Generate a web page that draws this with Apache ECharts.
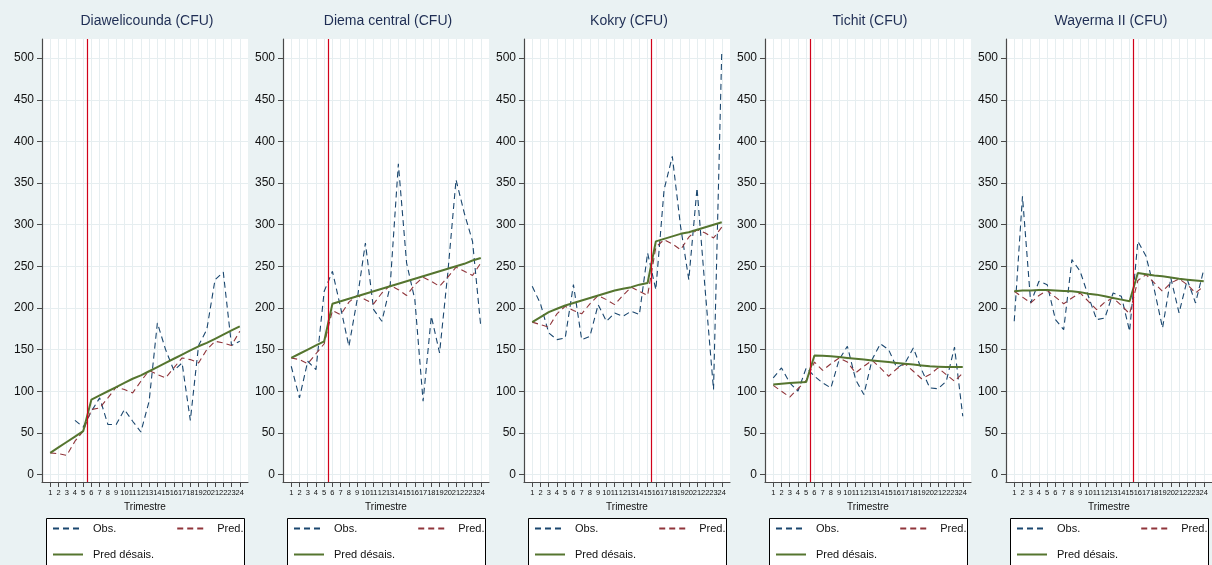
<!DOCTYPE html>
<html>
<head>
<meta charset="utf-8">
<script src="https://cdn.jsdelivr.net/npm/echarts@6/dist/echarts.min.js"></script>
<style>
html,body{margin:0;padding:0;background:#eaf2f3;}
#chart{width:1212px;height:565px;}
</style>
</head>
<body>
<div id="chart"></div>
<script>
// ---- data ----
const trimestres = [1,2,3,4,5,6,7,8,9,10,11,12,13,14,15,16,17,18,19,20,21,22,23,24];
const yTicks = [0,50,100,150,200,250,300,350,400,450,500];
const panelTitles = ['Diawelicounda (CFU)','Diema central (CFU)','Kokry (CFU)','Tichit (CFU)','Wayerma II (CFU)'];
const breakPoints = [5.5, 5.5, 15.5, 5.5, 15.5];
const legendNames = ['Obs.', 'Pred.', 'Pred désais.'];

const obsDiawelicounda = [null,null,null,65,57,76,92,60,60,78,64,51,88,182,150,125,134,65,155,174,234,243,155,160];
const predDiawelicounda = [26,25,23,40,52,78,80,92,105,102,98,112,125,120,116,128,140,138,134,150,160,158,155,172];
const desaisDiawelicounda = [26,32.5,39,45.5,52,90,95,100,105,110,115,119,124,129,134,139,144,149,154,158,163,168,173,178];

const obsDiema = [130,92,136,126,220,244,200,154,210,278,198,184,226,373,254,210,88,190,146,242,354,314,280,178];
const predDiema = [140,138,133,145,157,197,192,207,215,210,205,218,227,222,215,228,237,232,226,237,249,244,239,254];
const desaisDiema = [140,145,150,155,160,205,208,211,214,217,220,223,226,229,232,235,238,241,244,247,250,253,257,260];

const obsKokry = [226,205,170,162,164,228,162,166,204,184,194,190,196,192,266,222,342,382,298,234,344,220,102,508];
const predKokry = [183,180,177,193,202,197,193,205,215,210,204,215,225,220,215,273,282,277,270,285,294,290,284,297];
const desaisKokry = [183,189,195,199,203,206,209,212,215,218,221,223,225,228,230,280,283,286,289,291,294,297,300,303];

const obsTichit = [116,128,110,100,128,118,110,104,138,154,114,96,138,157,150,128,134,152,126,104,103,112,153,70];
const predTichit = [107,100,93,103,113,135,125,133,140,135,122,130,137,128,118,127,133,124,115,120,128,120,112,122];
const desaisTichit = [108,109,110,110.5,111,143,142.5,142,141,140,139,138,137,136,135,134,133,132,131,130,129.5,129,129,129];

const obsWayerma = [184,334,206,232,228,186,174,258,244,214,186,188,218,214,172,280,262,222,176,236,194,234,206,246];
const predWayerma = [220,213,206,215,221,213,205,212,218,208,198,207,212,203,193,233,240,230,220,230,235,228,218,226];
const desaisWayerma = [220,221,221,221.5,221.5,221,220.5,220,219,217,216,214,212,210,208,242,240.5,239,238,236.5,235,234,233,232];

const panels = [
  [obsDiawelicounda, predDiawelicounda, desaisDiawelicounda],
  [obsDiema, predDiema, desaisDiema],
  [obsKokry, predKokry, desaisKokry],
  [obsTichit, predTichit, desaisTichit],
  [obsWayerma, predWayerma, desaisWayerma]
];

// ---- layout / style ----
const FONT = '"Liberation Sans", Arial, Helvetica, sans-serif';
const gridLeft = [42, 283, 524, 765, 1006];
const gridWidth = 206;
const gridTop = 39;
const gridHeight = 443;
const colors = { obs: '#1a476f', pred: '#90353b', desais: '#55752f', brk: '#d0021b' };
const gridLineColor = '#e6eef0';
const axisColor = '#4a4a4a';

const pairs = arr => trimestres.map((t, i) => [t, arr[i]]);

const option = {
  animation: false,
  backgroundColor: '#eaf2f3',
  textStyle: { fontFamily: FONT },
  title: [], grid: [], xAxis: [], yAxis: [], series: [], legend: [], graphic: []
};

panels.forEach((p, i) => {
  const left = gridLeft[i];
  option.grid.push({ left: left, top: gridTop, width: gridWidth, height: gridHeight, backgroundColor: '#ffffff', show: true, borderWidth: 0 });
  option.title.push({
    text: panelTitles[i], left: left + gridWidth / 2 - 3, top: 9, textAlign: 'center',
    textStyle: { fontFamily: FONT, fontSize: 14, fontWeight: 'normal', color: '#1e2d53' }
  });
  option.xAxis.push({
    type: 'value', gridIndex: i, min: 0, max: 25, interval: 1,
    name: 'Trimestre', nameLocation: 'middle', nameGap: 19,
    nameTextStyle: { fontFamily: FONT, fontSize: 10, color: '#111' },
    axisLine: { show: true, onZero: false, lineStyle: { color: axisColor, width: 1.2 } },
    axisTick: { show: true, length: 5, customValues: trimestres, lineStyle: { color: axisColor } },
    axisLabel: { customValues: trimestres, fontSize: 7.5, color: '#111', margin: 7, fontFamily: FONT },
    splitLine: { show: true, lineStyle: { color: gridLineColor, width: 1 } }
  });
  option.yAxis.push({
    type: 'value', gridIndex: i, min: -9, max: 523,
    axisLine: { show: true, onZero: false, lineStyle: { color: axisColor, width: 1.2 } },
    axisTick: { show: true, length: 5, customValues: yTicks, lineStyle: { color: axisColor } },
    axisLabel: { customValues: yTicks, fontSize: 12, color: '#111', margin: 8, fontFamily: FONT },
    splitLine: { show: true, lineStyle: { color: gridLineColor, width: 1 } }
  });
  option.series.push({
    name: legendNames[0], type: 'line', xAxisIndex: i, yAxisIndex: i, data: pairs(p[0]),
    symbol: 'none', connectNulls: false,
    lineStyle: { color: colors.obs, width: 1.1, type: [6, 4] }, itemStyle: { color: colors.obs }
  });
  option.series.push({
    name: legendNames[1], type: 'line', xAxisIndex: i, yAxisIndex: i, data: pairs(p[1]),
    symbol: 'none',
    lineStyle: { color: colors.pred, width: 1.1, type: [6, 4] }, itemStyle: { color: colors.pred }
  });
  option.series.push({
    name: legendNames[2], type: 'line', xAxisIndex: i, yAxisIndex: i, data: pairs(p[2]),
    symbol: 'none',
    lineStyle: { color: colors.desais, width: 2 }, itemStyle: { color: colors.desais },
    markLine: {
      silent: true, symbol: 'none', label: { show: false },
      lineStyle: { color: colors.brk, width: 1.2, type: 'solid' },
      data: [{ xAxis: breakPoints[i] }]
    }
  });
  const boxLeft = left + 4;
  option.graphic.push({
    type: 'rect', left: boxLeft, top: 518, z: 1,
    shape: { width: 198, height: 70 },
    style: { fill: '#ffffff', stroke: '#000000', lineWidth: 1 }
  });
  const legendCommon = {
    orient: 'horizontal', itemWidth: 30, itemHeight: 12, z: 5, padding: 0, width: 192,
    itemStyle: { opacity: 0 },
    textStyle: { fontFamily: FONT, fontSize: 11, color: '#111', padding: [0, 0, 0, 5] },
    selectedMode: false
  };
  option.legend.push(Object.assign({}, legendCommon, {
    data: [legendNames[0], legendNames[1]], left: boxLeft + 6, top: 523, itemGap: 60
  }));
  option.legend.push(Object.assign({}, legendCommon, {
    data: [legendNames[2]], left: boxLeft + 6, top: 549
  }));
});

const chart = echarts.init(document.getElementById('chart'), null, { renderer: 'canvas' });
chart.setOption(option);
</script>
</body>
</html>
